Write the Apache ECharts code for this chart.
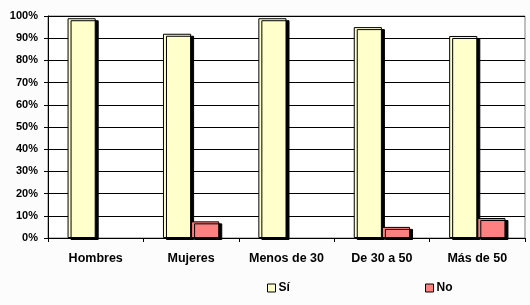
<!DOCTYPE html>
<html><head><meta charset="utf-8">
<script src="https://cdn.jsdelivr.net/npm/echarts@6/dist/echarts.min.js"></script>
<style>html,body{margin:0;padding:0;background:#fcfcfc}#c{width:530px;height:305px}</style>
</head><body><div id="c"></div>
<script>
const categories = ['Hombres', 'Mujeres', 'Menos de 30', 'De 30 a 50', 'Más de 50'];
const siValues = [99, 92, 99, 95, 91];
const noValues = [0, 7.5, 0, 5, 9];
const yTicks = [0, 10, 20, 30, 40, 50, 60, 70, 80, 90, 100];

const chart = echarts.init(document.getElementById('c'), null, {renderer: 'canvas'});
const font = 'Liberation Sans, Arial, sans-serif';
const barStyle = (color) => ({
  color: color, borderColor: '#000', borderWidth: 1,
  shadowColor: '#000', shadowBlur: 0, shadowOffsetX: 3, shadowOffsetY: 2
});
chart.setOption({
  backgroundColor: '#fcfcfc',
  animation: false,
  grid: {left: 48, right: 5, top: 16, bottom: 67, show: true, backgroundColor: '#fff', borderColor: '#808080', borderWidth: 1},
  legend: [
    {data: ['Sí'], left: 262, top: 277, itemWidth: 8, itemHeight: 8, itemGap: 4, icon: 'rect',
     textStyle: {fontFamily: font, fontWeight: 'bold', fontSize: 12, color: '#000', padding: [0,0,0,-2]},
     itemStyle: {borderColor: '#000', borderWidth: 1, shadowBlur: 0, shadowOffsetX: 0, shadowOffsetY: 0}},
    {data: ['No'], left: 420, top: 277, itemWidth: 8, itemHeight: 8, itemGap: 4, icon: 'rect',
     textStyle: {fontFamily: font, fontWeight: 'bold', fontSize: 12, color: '#000', padding: [0,0,0,-2]},
     itemStyle: {borderColor: '#000', borderWidth: 1, shadowBlur: 0, shadowOffsetX: 0, shadowOffsetY: 0}}
  ],
  xAxis: {
    type: 'category', data: categories,
    axisLine: {lineStyle: {color: '#000', width: 1}},
    axisTick: {show: true, length: 4, lineStyle: {color: '#000'}},
    axisLabel: {interval: 0, fontFamily: font, fontWeight: 'bold', fontSize: 12.5, color: '#000', margin: 14}
  },
  yAxis: {
    type: 'value', min: 0, max: 100, interval: 10,
    axisLine: {show: true, lineStyle: {color: '#000', width: 1}},
    axisTick: {show: true, length: 4, lineStyle: {color: '#000'}},
    splitLine: {lineStyle: {color: '#000', width: 1}},
    axisLabel: {fontFamily: font, fontWeight: 'bold', fontSize: 11, color: '#000', margin: 10,
      formatter: v => yTicks.includes(v) ? v + '%' : ''}
  },
  series: [
    {name: 'Sí', type: 'bar', data: siValues, barGap: '0%', barCategoryGap: '41%', itemStyle: barStyle('#FFFFCC')},
    {name: 'No', type: 'bar', data: noValues.map(v => v === 0 ? null : v), barGap: '0%', barCategoryGap: '41%', itemStyle: barStyle('#FF8080')}
  ]
});
</script></body></html>
